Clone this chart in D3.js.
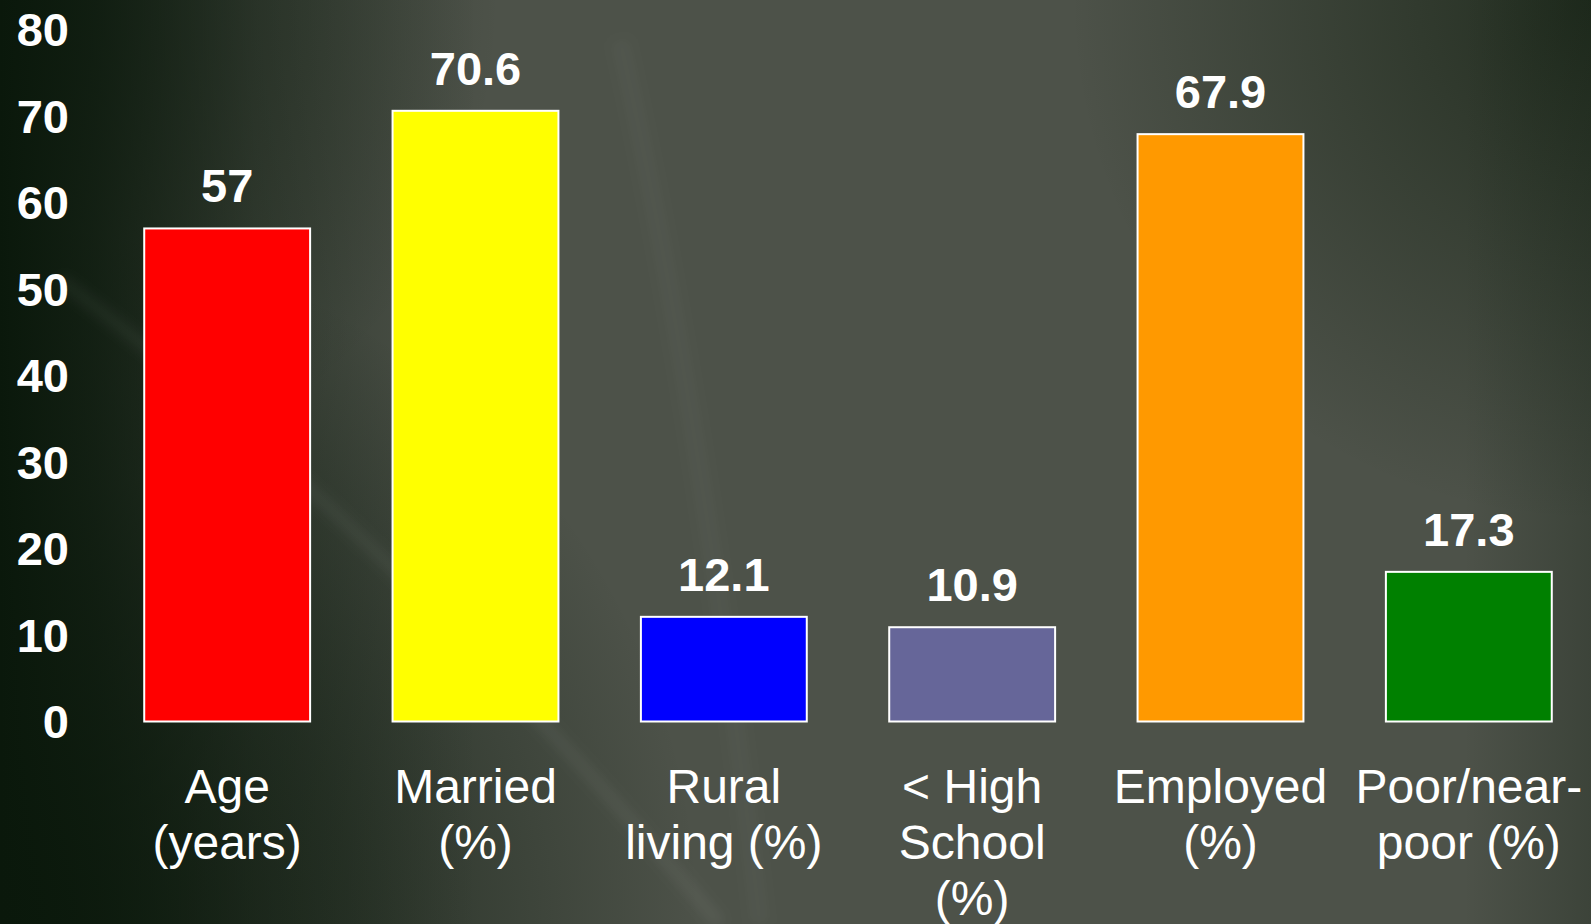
<!DOCTYPE html>
<html>
<head>
<meta charset="utf-8">
<script src="https://cdn.jsdelivr.net/npm/d3@7"></script>
<style>
  body { margin: 0; background: #1c2619; overflow: hidden; }
  svg { display: block; font-family: "Liberation Sans", Arial, sans-serif; }
</style>
</head>
<body>
<div id="chart"></div>
<script>
const categories = ["Age (years)", "Married (%)", "Rural living (%)", "< High School (%)", "Employed (%)", "Poor/near-poor (%)"];
const labelLines = [["Age", "(years)"], ["Married", "(%)"], ["Rural", "living (%)"], ["< High", "School", "(%)"], ["Employed", "(%)"], ["Poor/near-", "poor (%)"]];
const values = [57, 70.6, 12.1, 10.9, 67.9, 17.3];
const barColors = ["#ff0000", "#ffff00", "#0000ff", "#666699", "#ff9900", "#008000"];
const yTicks = [0, 10, 20, 30, 40, 50, 60, 70, 80];

const width = 1591, height = 924;

const svg = d3.select("#chart")
  .append("svg")
    .attr("width", width)
    .attr("height", height);

// background: grey slide with dark green left edge / corners and faint streaks
const defs = svg.append("defs");

const leftShade = defs.append("linearGradient")
    .attr("id", "leftShade")
    .attr("x1", 0).attr("x2", 1).attr("y1", 0).attr("y2", 0);
leftShade.append("stop").attr("offset", "0%").attr("stop-color", "#0a180b").attr("stop-opacity", 1);
leftShade.append("stop").attr("offset", "6%").attr("stop-color", "#0a180b").attr("stop-opacity", 0.8);
leftShade.append("stop").attr("offset", "16%").attr("stop-color", "#0a180b").attr("stop-opacity", 0.35);
leftShade.append("stop").attr("offset", "30%").attr("stop-color", "#0a180b").attr("stop-opacity", 0);
leftShade.append("stop").attr("offset", "92%").attr("stop-color", "#0a180b").attr("stop-opacity", 0);
leftShade.append("stop").attr("offset", "100%").attr("stop-color", "#0a180b").attr("stop-opacity", 0.25);

const blShade = defs.append("radialGradient")
    .attr("id", "blShade")
    .attr("gradientUnits", "userSpaceOnUse")
    .attr("cx", 0).attr("cy", 924).attr("r", 700);
blShade.append("stop").attr("offset", "0%").attr("stop-color", "#0a180b").attr("stop-opacity", 0.9);
blShade.append("stop").attr("offset", "50%").attr("stop-color", "#0a180b").attr("stop-opacity", 0.5);
blShade.append("stop").attr("offset", "100%").attr("stop-color", "#0a180b").attr("stop-opacity", 0);

const trShade = defs.append("radialGradient")
    .attr("id", "trShade")
    .attr("gradientUnits", "userSpaceOnUse")
    .attr("cx", 1591).attr("cy", 0).attr("r", 520);
trShade.append("stop").attr("offset", "0%").attr("stop-color", "#152213").attr("stop-opacity", 0.75);
trShade.append("stop").attr("offset", "100%").attr("stop-color", "#152213").attr("stop-opacity", 0);

const tlShade = defs.append("radialGradient")
    .attr("id", "tlShade")
    .attr("gradientUnits", "userSpaceOnUse")
    .attr("cx", 0).attr("cy", 0).attr("r", 500);
tlShade.append("stop").attr("offset", "0%").attr("stop-color", "#0a180b").attr("stop-opacity", 0.6);
tlShade.append("stop").attr("offset", "100%").attr("stop-color", "#0a180b").attr("stop-opacity", 0);

defs.append("filter").attr("id", "blur")
  .attr("x", "-20%").attr("y", "-20%").attr("width", "140%").attr("height", "140%")
  .append("feGaussianBlur").attr("stdDeviation", 6);

svg.append("rect").attr("width", width).attr("height", height).attr("fill", "#4d5249");
svg.append("rect").attr("width", width).attr("height", height).attr("fill", "url(#trShade)");
svg.append("rect").attr("width", width).attr("height", height).attr("fill", "url(#tlShade)");
svg.append("rect").attr("width", width).attr("height", height).attr("fill", "url(#blShade)");
svg.append("rect").attr("width", width).attr("height", height).attr("fill", "url(#leftShade)");

// faint light streaks
const streaks = svg.append("g")
  .attr("fill", "none")
  .attr("stroke", "#ffffff")
  .attr("filter", "url(#blur)");
streaks.append("path")
  .attr("d", "M60,280 Q380,520 720,924")
  .attr("stroke-width", 14).attr("stroke-opacity", 0.05);
streaks.append("path")
  .attr("d", "M620,40 Q700,400 760,924")
  .attr("stroke-width", 20).attr("stroke-opacity", 0.025);

// scales
const x = d3.scaleBand()
  .domain(categories)
  .range([103, 1593])
  .paddingInner(0.332)
  .paddingOuter(0.166);

const y = d3.scaleLinear()
  .domain([0, 80])
  .range([721.5, 29.5]);

// y axis labels only (no line, no ticks)
const yAxis = svg.append("g")
  .attr("transform", "translate(69,0)")
  .call(d3.axisLeft(y).tickValues(yTicks).tickSize(0).tickPadding(0));
yAxis.select(".domain").remove();
yAxis.selectAll("text")
  .attr("fill", "#ffffff")
  .style("font-size", "47px")
  .style("font-weight", "bold")
  .style("font-family", "'Liberation Sans', Arial, sans-serif")
  .attr("dy", "0.35em");

// bars
svg.selectAll(".bar")
  .data(values)
  .join("rect")
    .attr("class", "bar")
    .attr("x", (d, i) => x(categories[i]))
    .attr("y", d => y(d))
    .attr("width", x.bandwidth())
    .attr("height", d => y(0) - y(d))
    .attr("fill", (d, i) => barColors[i])
    .attr("stroke", "#ffffff")
    .attr("stroke-width", 2);

// value labels
svg.selectAll(".val")
  .data(values)
  .join("text")
    .attr("class", "val")
    .attr("x", (d, i) => x(categories[i]) + x.bandwidth() / 2)
    .attr("y", d => y(d) - 26)
    .attr("text-anchor", "middle")
    .attr("fill", "#ffffff")
    .style("font-size", "47px")
    .style("font-weight", "bold")
    .text(d => d);

// category labels
const cat = svg.selectAll(".cat")
  .data(categories)
  .join("text")
    .attr("class", "cat")
    .attr("text-anchor", "middle")
    .attr("fill", "#ffffff")
    .style("font-size", "48px");

cat.selectAll("tspan")
  .data((d, i) => labelLines[i].map(t => ({t: t, c: d})))
  .join("tspan")
    .attr("x", d => x(d.c) + x.bandwidth() / 2)
    .attr("y", (d, j) => 803 + j * 56)
    .text(d => d.t);
</script>
</body>
</html>
